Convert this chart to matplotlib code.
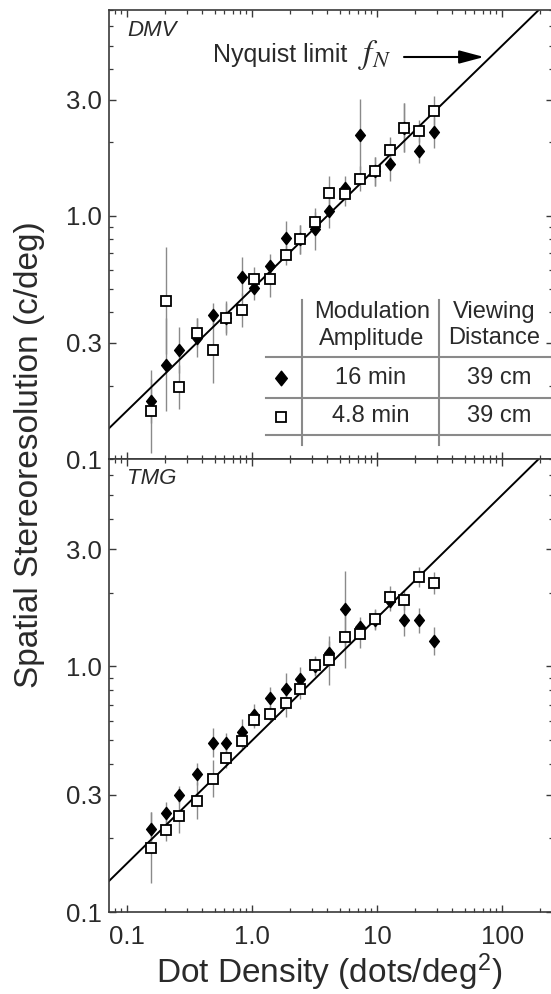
import numpy as np
import matplotlib
matplotlib.use('Agg')
import matplotlib.pyplot as plt
from matplotlib.path import Path
from matplotlib.ticker import FixedLocator, FixedFormatter, NullFormatter

# ---------------- data ----------------
density = [0.154, 0.206, 0.261, 0.364, 0.489, 0.614, 0.824, 1.04, 1.39, 1.85,
           2.43, 3.16, 4.14, 5.53, 7.28, 9.6, 12.65, 16.5, 21.7, 28.6]

# DMV, 16 min (filled diamonds)
dmv_16 = [0.173, 0.244, 0.28, 0.315, 0.39, 0.38, 0.56, 0.506, 0.62, 0.81,
          0.80, 0.88, 1.045, 1.30, 2.15, 1.52, 1.63, 2.30, 1.85, 2.20]
dmv_16_err = [0.09, 0.19, 0.095, 0.08, 0.05, 0.06, 0.08, 0.05, 0.05, 0.07,
              0.06, 0.085, 0.07, 0.05, 0.145, 0.06, 0.07, 0.1, 0.05, 0.065]
# DMV, 4.8 min (open squares)
dmv_48 = [0.157, 0.447, 0.197, 0.33, 0.28, 0.38, 0.41, 0.55, 0.55, 0.69,
          0.80, 0.944, 1.236, 1.23, 1.42, 1.52, 1.87, 2.30, 2.22, 2.70]
dmv_48_err = [0.17, 0.22, 0.09, 0.06, 0.135, 0.07, 0.07, 0.05, 0.075, 0.04,
              0.06, 0.04, 0.07, 0.05, 0.05, 0.06, 0.05, 0.1, 0.045, 0.06]

# TMG, 16 min
tmg_16 = [0.218, 0.253, 0.300, 0.365, 0.489, 0.489, 0.539, 0.635, 0.743, 0.808,
          0.887, 1.0, 1.137, 1.714, 1.445, 1.55, 1.84, 1.54, 1.54, 1.27]
tmg_16_err = [0.067, 0.045, 0.035, 0.045, 0.06, 0.04, 0.055, 0.045, 0.045, 0.066,
              0.05, 0.04, 0.05, 0.155, 0.04, 0.04, 0.04, 0.065, 0.05, 0.055]
# TMG, 4.8 min
tmg_48 = [0.183, 0.215, 0.247, 0.284, 0.349, 0.424, 0.498, 0.607, 0.643, 0.713,
          0.81, 1.01, 1.06, 1.315, 1.35, 1.56, 1.92, 1.86, 2.31, 2.18]
tmg_48_err = [0.146, 0.045, 0.07, 0.075, 0.075, 0.04, 0.035, 0.035, 0.03, 0.06,
              0.04, 0.04, 0.1, 0.125, 0.055, 0.04, 0.045, 0.04, 0.04, 0.045]

nyquist_coef = 0.5   # f_N = 0.5 * sqrt(density)

x_major = [0.1, 1.0, 10, 100]
x_major_labels = ['0.1', '1.0', '10', '100']
y_major = [0.1, 0.3, 1.0, 3.0]
y_major_labels = ['0.1', '0.3', '1.0', '3.0']

panel_names = ['DMV', 'TMG']
table_header_1 = ['Modulation', 'Amplitude']
table_header_2 = ['Viewing', 'Distance']
table_amp = ['16 min', '4.8 min']
table_dist = ['39 cm', '39 cm']

# ---------------- style ----------------
plt.rcParams['font.family'] = ['Liberation Sans', 'DejaVu Sans']
plt.rcParams['mathtext.fontset'] = 'custom'
plt.rcParams['mathtext.rm'] = 'Liberation Sans'
plt.rcParams['mathtext.it'] = 'Liberation Sans:italic'

TXT = '#2a2a2a'
SPINE = '#3a3a3a'
GRAY = '#8a8a8a'

W, H = 551, 994
fig = plt.figure(figsize=(W / 100, H / 100), dpi=100)


def fx(px):
    return px / W


def fy(py):
    return 1 - py / H


L, R = 109, 553
ax_top = fig.add_axes([fx(L), fy(459), fx(R) - fx(L), fy(10) - fy(459)])
ax_bot = fig.add_axes([fx(L), fy(912), fx(R) - fx(L), fy(459) - fy(912)])

diamond = Path([(0, 1), (0.8, 0), (0, -1), (-0.8, 0), (0, 1)],
               [Path.MOVETO, Path.LINETO, Path.LINETO, Path.LINETO, Path.CLOSEPOLY])

xlim = (0.0715, 255)
ylim = (0.1, 7.0)
xs = np.logspace(np.log10(xlim[0]), np.log10(xlim[1]), 200)


def yerr(vals, errs):
    v = np.array(vals)
    e = np.array(errs)
    return [v - v * 10 ** (-e), v * 10 ** e - v]


for ax, d16, e16, d48, e48, name in [
        (ax_top, dmv_16, dmv_16_err, dmv_48, dmv_48_err, panel_names[0]),
        (ax_bot, tmg_16, tmg_16_err, tmg_48, tmg_48_err, panel_names[1])]:
    ax.set_xscale('log')
    ax.set_yscale('log')
    ax.set_xlim(*xlim)
    ax.set_ylim(*ylim)
    ax.plot(xs, nyquist_coef * np.sqrt(xs), color='black', lw=1.4, zorder=2, clip_on=True)
    ax.errorbar(density, d16, yerr=yerr(d16, e16), fmt='none', ecolor=GRAY,
                elinewidth=1.0, capsize=0, zorder=1)
    ax.errorbar(density, d48, yerr=yerr(d48, e48), fmt='none', ecolor=GRAY,
                elinewidth=1.0, capsize=0, zorder=1)
    ax.plot(density, d16, linestyle='none', marker=diamond, markersize=8.8,
            color='black', zorder=3)
    ax.plot(density, d48, linestyle='none', marker='s', markersize=6.7,
            markerfacecolor='white', markeredgecolor='black', markeredgewidth=1.3, zorder=4)

    ax.xaxis.set_major_locator(FixedLocator(x_major))
    ax.xaxis.set_major_formatter(FixedFormatter(x_major_labels))
    ax.xaxis.set_minor_locator(FixedLocator(
        [m * 10.0 ** k for k in range(-2, 3) for m in range(2, 10)]))
    ax.xaxis.set_minor_formatter(NullFormatter())
    ax.yaxis.set_major_locator(FixedLocator(y_major))
    ax.yaxis.set_major_formatter(FixedFormatter(y_major_labels))
    ax.yaxis.set_minor_locator(FixedLocator(
        [m * 10.0 ** k for k in range(-1, 1) for m in range(2, 10) if not (m == 3)]))
    ax.yaxis.set_minor_formatter(NullFormatter())

    ax.tick_params(which='both', direction='in', top=True, right=True,
                   color=SPINE, labelcolor=TXT, labelsize=18.5)
    ax.tick_params(which='major', length=5, width=1.0)
    ax.tick_params(which='minor', length=3, width=0.9)
    ax.tick_params(axis='y', pad=5)
    ax.tick_params(axis='x', pad=9)
    for s in ax.spines.values():
        s.set_color(SPINE)
        s.set_linewidth(1.2)

    fig.text(fx(127), fy(30 if ax is ax_top else 479), name, style='italic',
             fontsize=16, color=TXT, ha='left', va='center')

ax_top.tick_params(axis='x', labelbottom=False)

# axis labels
fig.text(fx(30), fy(455), 'Spatial Stereoresolution (c/deg)', rotation=90,
         fontsize=24, color=TXT, ha='center', va='center')
fig.text(fx(329), fy(972), 'Dot Density (dots/deg$^2$)', fontsize=24, color=TXT,
         ha='center', va='center')

# Nyquist annotation
fig.text(fx(213), fy(62), 'Nyquist limit', fontsize=18, color=TXT,
         ha='left', va='baseline')
fig.text(fx(358), fy(63), r'$f_N$', fontsize=24, color=TXT,
         ha='left', va='baseline', math_fontfamily='stix')
ax_top.annotate('', xy=(fx(484), fy(57)), xycoords='figure fraction',
                xytext=(fx(404), fy(57)), textcoords='figure fraction',
                arrowprops=dict(arrowstyle='-|>,head_length=0.75,head_width=0.2',
                                color='black', lw=1.5, mutation_scale=20,
                                shrinkA=0, shrinkB=0))

# legend table
for yy in [356.7, 398.3, 435]:
    fig.add_artist(plt.Line2D([fx(266), fx(551)], [fy(yy), fy(yy)],
                              color=GRAY, lw=1.5))
for xx in [301.7, 439]:
    fig.add_artist(plt.Line2D([fx(xx), fx(xx)], [fy(300), fy(445)],
                              color=GRAY, lw=1.5))
tfs = 17
fig.text(fx(372), fy(312), table_header_1[0], fontsize=tfs, color=TXT, ha='center', va='center')
fig.text(fx(372), fy(338.5), table_header_1[1], fontsize=tfs, color=TXT, ha='center', va='center')
fig.text(fx(494), fy(312), table_header_2[0], fontsize=tfs, color=TXT, ha='center', va='center')
fig.text(fx(494), fy(338.5), table_header_2[1], fontsize=tfs, color=TXT, ha='center', va='center')
for i, yy in enumerate([378, 416.5]):
    fig.text(fx(371), fy(yy), table_amp[i], fontsize=tfs, color=TXT, ha='center', va='center')
    fig.text(fx(499), fy(yy), table_dist[i], fontsize=tfs, color=TXT, ha='center', va='center')
fig.add_artist(plt.Line2D([fx(281)], [fy(378)], marker=diamond, markersize=10.5,
                          color='black', linestyle='none'))
fig.add_artist(plt.Line2D([fx(281)], [fy(416.5)], marker='s', markersize=7.5,
                          markerfacecolor='white', markeredgecolor='black',
                          markeredgewidth=1.3, linestyle='none'))

fig.savefig('out.png', dpi=100)
